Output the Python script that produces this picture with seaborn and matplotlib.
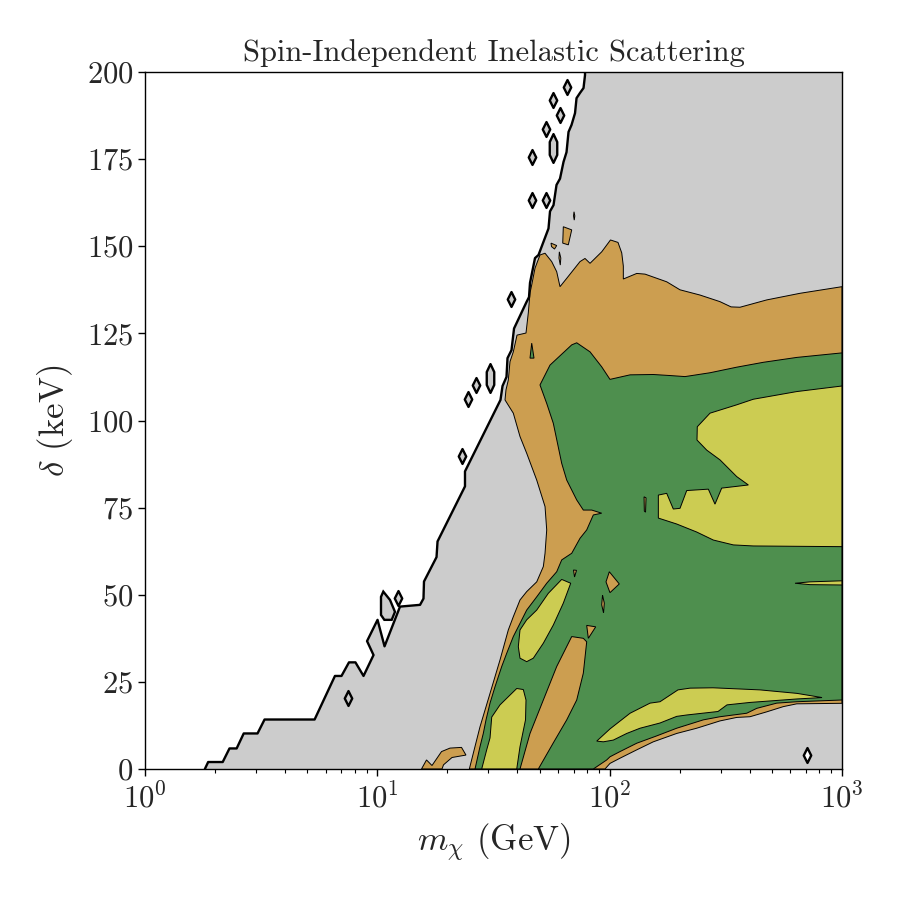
import matplotlib
matplotlib.use("Agg")
import matplotlib.pyplot as plt
import numpy as np
import seaborn as sns
from matplotlib.markers import MarkerStyle
from matplotlib.path import Path

# colours of the confidence regions
GRAY = "#cccccc"
ORANGE = "#cc9e50"
GREEN = "#4e8f4e"
YELLOW = "#cccc52"

# (m_chi [GeV], delta [keV]) outlines
gray_edge = [
    (1.81, 0), (1.87, 2.0), (2.16, 2.0), (2.31, 5.9), (2.48, 5.9), (2.66, 10.2), (3.05, 10.2),
    (3.27, 14.2), (5.37, 14.2), (6.57, 26.7), (7.01, 26.7), (7.55, 30.6), (8.05, 30.6),
    (8.72, 26.7), (9.63, 32.7), (9.03, 36.7), (10.02, 42.8), (10.74, 35.2), (12.52, 46.6),
    (15.27, 47.1), (15.80, 48.9), (15.88, 53.8), (17.98, 60.8), (18.16, 65.3), (23.84, 81.1),
    (23.84, 85.4), (33.89, 105.9), (34.58, 109.9), (35.97, 112.5), (36.33, 117.9), (37.80, 120.2),
    (38.76, 126.4), (43.86, 134.0), (44.96, 135.4), (45.41, 139.5), (47.71, 146.6), (49.40, 147.5),
    (54.54, 155.1), (55.36, 160.0), (57.32, 161.8), (59.05, 167.6), (61.13, 169.4), (63.29, 174.2),
    (65.21, 177.0), (66.51, 182.8), (68.52, 184.8), (70.94, 188.2), (72.01, 192.5), (74.54, 194.0),
    (77.17, 195.4), (78.32, 199.1), (78.32, 200),
]
gray_corners = [(1000, 200), (1000, 0)]

orange_edge = [
    (24.89, 0), (25.88, 4.5), (27.66, 12.1), (30.55, 21.7), (33.73, 31.3), (36.62, 39.9),
    (38.48, 43.7), (41.12, 48.5), (43.94, 50.9), (48.53, 53.7), (51.82, 58.1), (52.70, 61.9),
    (53.58, 68.6), (52.70, 75.3), (48.53, 82.9), (43.94, 90.6), (41.12, 95.4), (38.48, 102.1),
    (35.44, 105.9), (35.79, 108.8), (36.62, 111.6), (37.24, 116.9), (38.48, 119.7), (39.92, 124.5),
    (43.64, 125.1), (44.65, 130.9), (45.41, 136.6), (46.18, 138.9), (47.71, 143.7), (50.13, 147.5),
    (52.70, 148.0), (56.30, 145.6), (59.16, 142.7), (61.13, 138.4), (65.34, 140.8), (74.54, 145.6),
    (78.32, 146.5), (82.31, 145.1), (92.41, 148.4), (100.8, 151.8), (108.6, 151.1), (112.7, 148.1),
    (114.5, 144.3), (114.5, 140.6), (130.8, 142.2), (142.0, 142.0), (176.0, 139.8), (200.8, 137.5),
    (244.8, 136.0), (298.5, 134.1), (333.0, 132.6), (363.9, 132.5), (474.2, 134.6), (659.6, 136.5),
    (1000, 138.4), (1000, 18.85), (638.4, 18.7), (559.0, 17.9), (474.2, 16.4), (401.8, 15.0),
    (352.3, 14.8), (298.5, 13.8), (236.9, 11.7), (194.3, 10.2), (154.1, 7.8), (130.8, 5.5),
    (110.8, 3.1), (100.3, 1.6), (95.48, 0),
]

green_edge = [
    (26.33, 0), (27.66, 6.4), (28.58, 10.2), (29.36, 14.1), (30.55, 18.9), (32.10, 23.6),
    (34.30, 29.4), (36.04, 33.2), (38.48, 38.0), (41.12, 41.8), (43.94, 45.6), (48.53, 49.4),
    (53.58, 53.3), (59.16, 56.6), (62.17, 60.0), (68.65, 61.9), (74.54, 66.2), (79.64, 68.6),
    (85.05, 72.9), (92.41, 73.4), (83.71, 74.3), (77.02, 74.3), (72.14, 77.2), (65.34, 82.9),
    (62.17, 87.7), (57.20, 99.2), (53.58, 104.9), (50.13, 110.2), (55.36, 115.9), (68.65, 121.7),
    (72.14, 122.3), (82.31, 119.7), (92.41, 115.4), (100.3, 111.8), (122.4, 113.1), (154.1, 113.2),
    (181.9, 112.9), (211.0, 112.6), (270.3, 113.7), (352.3, 115.3), (458.5, 116.7), (638.4, 118.1),
    (1000, 119.4), (1000, 19.8), (638.4, 19.3), (523.5, 18.9), (429.5, 17.4), (388.9, 16.0),
    (298.5, 15.0), (253.0, 14.1), (194.3, 11.7), (159.4, 9.5), (130.8, 7.4), (110.8, 5.0),
    (100.3, 3.5), (97.12, 2.6), (85.05, 0),
]

yellow_main = [
    (1000, 109.9), (638.4, 108.3), (415.2, 106.1), (352.3, 104.5), (270.3, 102.1), (238.3, 98.2),
    (237.6, 94.4), (261.7, 91.5), (298.5, 88.7), (352.3, 83.9), (395.3, 81.5), (303.5, 80.6),
    (284.0, 76.0), (265.9, 80.3), (214.6, 79.9), (200.8, 74.8), (187.9, 74.6), (176.0, 79.1),
    (162.0, 78.6), (162.0, 72.0), (194.3, 70.3), (236.9, 68.0), (279.3, 65.7), (340.7, 64.3),
    (415.2, 64.0), (1000, 63.8),
]
yellow_sliver = [(627.8, 53.3), (728.4, 53.7), (1000, 54.0), (1000, 52.8), (728.4, 52.9)]
yellow_band = [
    (87.96, 8.0), (100.3, 11.5), (122.4, 16.0), (149.2, 18.9), (164.7, 19.3), (196.8, 22.7),
    (221.7, 23.2), (278.5, 23.3), (443.7, 22.7), (640.3, 21.7), (820.4, 20.5), (640.3, 20.1),
    (401.8, 19.1), (319.9, 18.4), (292.6, 16.5), (214.6, 15.5), (194.3, 15.1), (164.7, 13.2),
    (135.1, 11.7), (118.4, 10.2), (103.7, 8.3), (93.9, 7.8),
]
yellow_low = [
    (28.13, 0), (29.56, 5.5), (30.55, 8.9), (31.07, 14.9), (33.73, 18.4), (39.81, 23.1),
    (42.49, 22.8), (43.64, 19.8), (43.43, 14.1), (41.12, 6.4), (39.81, 0),
]
yellow_mid = [
    (41.12, 39.9), (40.44, 35.1), (41.12, 31.8), (43.94, 30.8), (46.92, 31.8), (51.82, 36.1),
    (57.20, 41.3), (63.17, 47.6), (67.97, 53.3), (62.17, 54.4), (54.43, 50.4), (48.53, 45.6),
    (43.94, 42.8),
]

orange_islands = [
    [(41.12, 0), (45.41, 10.2), (51.82, 19.8), (59.16, 29.4), (68.65, 38.0), (77.02, 37.5),
     (79.64, 36.5), (77.02, 27.5), (72.14, 19.8), (65.34, 14.1), (57.20, 7.5), (49.31, 0)],
    [(79.64, 41.2), (87.09, 40.8), (80.94, 37.5)],
    [(99.65, 56.6), (110.0, 53.1), (100.3, 50.6), (96.43, 53.7)],
    [(93.16, 49.9), (94.83, 47.6), (94.1, 44.8), (92.41, 47.1)],
    [(69.88, 57.1), (72.0, 57.0), (70.59, 55.1)],
    [(140.6, 78.1), (143.4, 77.8), (142.7, 73.7), (141.0, 74.0)],
    [(63.17, 155.6), (68.65, 154.7), (66.37, 150.4), (62.80, 150.9)],
    [(55.91, 150.9), (59.16, 150.2), (57.89, 149.2), (56.20, 149.9)],
    [(60.72, 148.4), (61.62, 146.6), (61.3, 144.6), (60.5, 146.6)],
    [(70.23, 159.9), (70.8, 158.7), (70.4, 157.5), (69.9, 158.7)],
    [(15.49, 0), (16.28, 2.6), (17.19, 1.0), (18.89, 5.0), (20.55, 6.0), (23.03, 6.2),
     (24.07, 4.0), (20.96, 3.3), (19.27, 1.2), (18.98, 0)],
]
green_islands = [[(46.18, 122.2), (47.24, 117.9), (45.41, 117.9)]]

# isolated grid-point islands of the outer region
island_m = [7.50, 12.31, 23.07, 24.64, 26.51, 37.61, 46.45, 53.21, 46.45, 53.21, 57.20, 61.13, 65.73]
island_delta = [20.3, 49.0, 89.8, 106.2, 110.2, 134.8, 163.3, 163.3, 175.5, 183.6, 192.0, 187.7, 195.8]
long_island_m = [30.55, 57.20]
long_island_delta = [112.1, 178.1]
island_poly = [(10.61, 50.9), (10.37, 49.4), (10.37, 44.2), (10.72, 42.8), (11.53, 42.8),
               (11.91, 45.1), (11.34, 48.5)]
hole_m = [704.7]
hole_delta = [4.0]


def fill_region(ax, pts, color, lw=0.7, edge=True, z=2):
    m, d = zip(*pts)
    ax.fill(m, d, facecolor=color, edgecolor="black" if edge else "none", linewidth=lw, zorder=z)


sns.set_theme(style="ticks")
plt.rcParams["font.family"] = ["cmr10", "DejaVu Serif"]
plt.rcParams["mathtext.fontset"] = "cm"
plt.rcParams["axes.formatter.use_mathtext"] = True
plt.rcParams["axes.edgecolor"] = "black"

fig = plt.figure(figsize=(9, 9), dpi=100)
ax = fig.add_axes([145 / 900, 131 / 900, 697 / 900, 697 / 900])
ax.set_xscale("log")

fill_region(ax, gray_edge + gray_corners, GRAY, edge=False, z=1)
fill_region(ax, orange_edge, ORANGE, z=2)
fill_region(ax, green_edge, GREEN, z=3)
for poly in [yellow_main, yellow_sliver, yellow_band, yellow_low, yellow_mid]:
    fill_region(ax, poly, YELLOW, z=4)
for poly in orange_islands:
    fill_region(ax, poly, ORANGE, z=5)
for poly in green_islands:
    fill_region(ax, poly, GREEN, z=5)

# thick outer boundary of the allowed region
gm, gd = zip(*gray_edge)
sns.lineplot(x=list(gm), y=list(gd), sort=False, estimator=None, color="black", linewidth=1.7, ax=ax, zorder=6)
fill_region(ax, island_poly, GRAY, lw=1.7, z=6)

diamond = MarkerStyle(Path([(0, 1), (0.5, 0), (0, -1), (-0.5, 0), (0, 1)], closed=True))
hexagon = MarkerStyle(Path([(0, 1), (0.26, 0.45), (0.26, -0.45), (0, -1), (-0.26, -0.45), (-0.26, 0.45), (0, 1)], closed=True))
sns.scatterplot(x=island_m, y=island_delta, marker=diamond, s=115, color=GRAY, edgecolor="black", linewidth=1.7, ax=ax, zorder=7)
sns.scatterplot(x=long_island_m, y=long_island_delta, marker=hexagon, s=430, color=GRAY, edgecolor="black", linewidth=1.7, ax=ax, zorder=7)
sns.scatterplot(x=hole_m, y=hole_delta, marker=diamond, s=115, color="white", edgecolor="black", linewidth=1.7, ax=ax, zorder=7)

ax.set_xlim(1, 1000)
ax.set_ylim(0, 200)
ax.set_yticks(np.arange(0, 201, 25))
ax.tick_params(axis="both", which="major", labelsize=22, length=5, width=1, color="black")
ax.tick_params(axis="x", which="major", pad=5)
ax.tick_params(axis="x", which="minor", length=3, width=0.8, color="black")
for spine in ax.spines.values():
    spine.set_linewidth(1.0)
    spine.set_zorder(10)
ax.set_title("Spin-Independent Inelastic Scattering", fontsize=22, pad=8)
ax.set_xlabel(r"$m_\chi$ (GeV)", fontsize=25, labelpad=6)
ax.set_ylabel(r"$\delta$ (keV)", fontsize=25, labelpad=8)
ax.grid(False)

fig.savefig("out.png", dpi=100)
plt.close(fig)
